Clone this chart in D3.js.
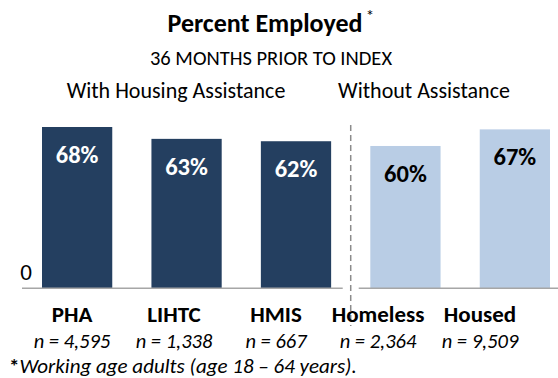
<!DOCTYPE html>
<html>
<head>
<meta charset="utf-8">
<script src="https://cdn.jsdelivr.net/npm/d3@7"></script>
<style>
body { margin: 0; background: #fff; }
svg { display: block; font-family: Carlito, Lato, sans-serif; }
</style>
</head>
<body>
<svg></svg>
<script>
var categories = ["PHA", "LIHTC", "HMIS", "Homeless", "Housed"];
var values = [68, 63, 62, 60, 67];
var counts = ["n = 4,595", "n = 1,338", "n = 667", "n = 2,364", "n = 9,509"];
var groups = ["assisted", "assisted", "assisted", "unassisted", "unassisted"];

var width = 558, height = 378;

var svg = d3.select("svg")
  .attr("width", width)
  .attr("height", height);

var xScale = d3.scaleBand().domain(categories).range([42, 550]).paddingInner(0.358).paddingOuter(0);
var yScale = d3.scaleLinear().domain([0, 100]).range([288.3, 51.1]);
// the text under the bars sits on its own grid in the original
var labelScale = d3.scalePoint().domain(categories).range([72, 480]);

var colors = { assisted: "#243f60", unassisted: "#b9cde5" };
var textColors = { assisted: "#ffffff", unassisted: "#000000" };

// titles
svg.append("text")
  .attr("x", 265).attr("y", 32)
  .attr("text-anchor", "middle")
  .style("font-size", "26px").style("font-weight", "bold")
  .text("Percent Employed");
svg.append("text")
  .attr("x", 370).attr("y", 21)
  .attr("text-anchor", "middle")
  .style("font-size", "17px")
  .text("*");
svg.append("text")
  .attr("x", 271).attr("y", 64.5)
  .attr("text-anchor", "middle")
  .style("font-size", "20.5px")
  .text("36 MONTHS PRIOR TO INDEX");
svg.append("text")
  .attr("x", 176).attr("y", 97.5)
  .attr("text-anchor", "middle")
  .style("font-size", "22px")
  .text("With Housing Assistance");
svg.append("text")
  .attr("x", 424).attr("y", 97.5)
  .attr("text-anchor", "middle")
  .style("font-size", "22px")
  .text("Without Assistance");

// bars
var bars = svg.append("g").attr("id", "barsG")
  .selectAll("g")
  .data(categories)
  .enter()
  .append("g");

bars.append("rect")
  .attr("x", function(d) { return xScale(d); })
  .attr("width", xScale.bandwidth())
  .attr("y", function(d, i) { return yScale(values[i]); })
  .attr("height", function(d, i) { return yScale(0) - yScale(values[i]); })
  .style("fill", function(d, i) { return colors[groups[i]]; });

bars.append("text")
  .attr("x", function(d) { return xScale(d) + xScale.bandwidth() / 2; })
  .attr("y", function(d, i) { return yScale(values[i]) + 36; })
  .attr("text-anchor", "middle")
  .style("font-size", "24.5px").style("font-weight", "bold")
  .style("fill", function(d, i) { return textColors[groups[i]]; })
  .text(function(d, i) { return values[i] + "%"; });

// baselines, one per group
var split = (xScale("HMIS") + xScale.bandwidth() + xScale("Homeless")) / 2;
svg.append("line")
  .attr("x1", 22).attr("x2", split - 8)
  .attr("y1", yScale(0)).attr("y2", yScale(0))
  .style("stroke", "#a6a6a6").style("stroke-width", 1.5);
svg.append("line")
  .attr("x1", split + 8).attr("x2", width)
  .attr("y1", yScale(0)).attr("y2", yScale(0))
  .style("stroke", "#a6a6a6").style("stroke-width", 1.5);

svg.append("line")
  .attr("x1", split).attr("x2", split)
  .attr("y1", 125).attr("y2", 326)
  .style("stroke", "#8c8c8c").style("stroke-width", 1.5)
  .style("stroke-dasharray", "6,4");

svg.append("text")
  .attr("x", 26).attr("y", 280)
  .attr("text-anchor", "middle")
  .style("font-size", "23px")
  .text("0");

// category labels + counts
svg.append("g").selectAll("text")
  .data(categories)
  .enter()
  .append("text")
  .attr("x", function(d) { return labelScale(d); })
  .attr("y", 321.7)
  .attr("text-anchor", "middle")
  .style("font-size", "23px").style("font-weight", "bold")
  .text(function(d) { return d; });

svg.append("g").selectAll("text")
  .data(categories)
  .enter()
  .append("text")
  .attr("x", function(d) { return labelScale(d); })
  .attr("y", 348.3)
  .attr("text-anchor", "middle")
  .style("font-size", "20.5px").style("font-style", "italic")
  .text(function(d, i) { return counts[i]; });

var foot = svg.append("text")
  .attr("x", 9).attr("y", 373)
  .style("font-size", "21px");
foot.append("tspan").style("font-weight", "bold").text("*");
foot.append("tspan").style("font-style", "italic").text("Working age adults (age 18 \u2013 64 years).");
</script>
</body>
</html>
